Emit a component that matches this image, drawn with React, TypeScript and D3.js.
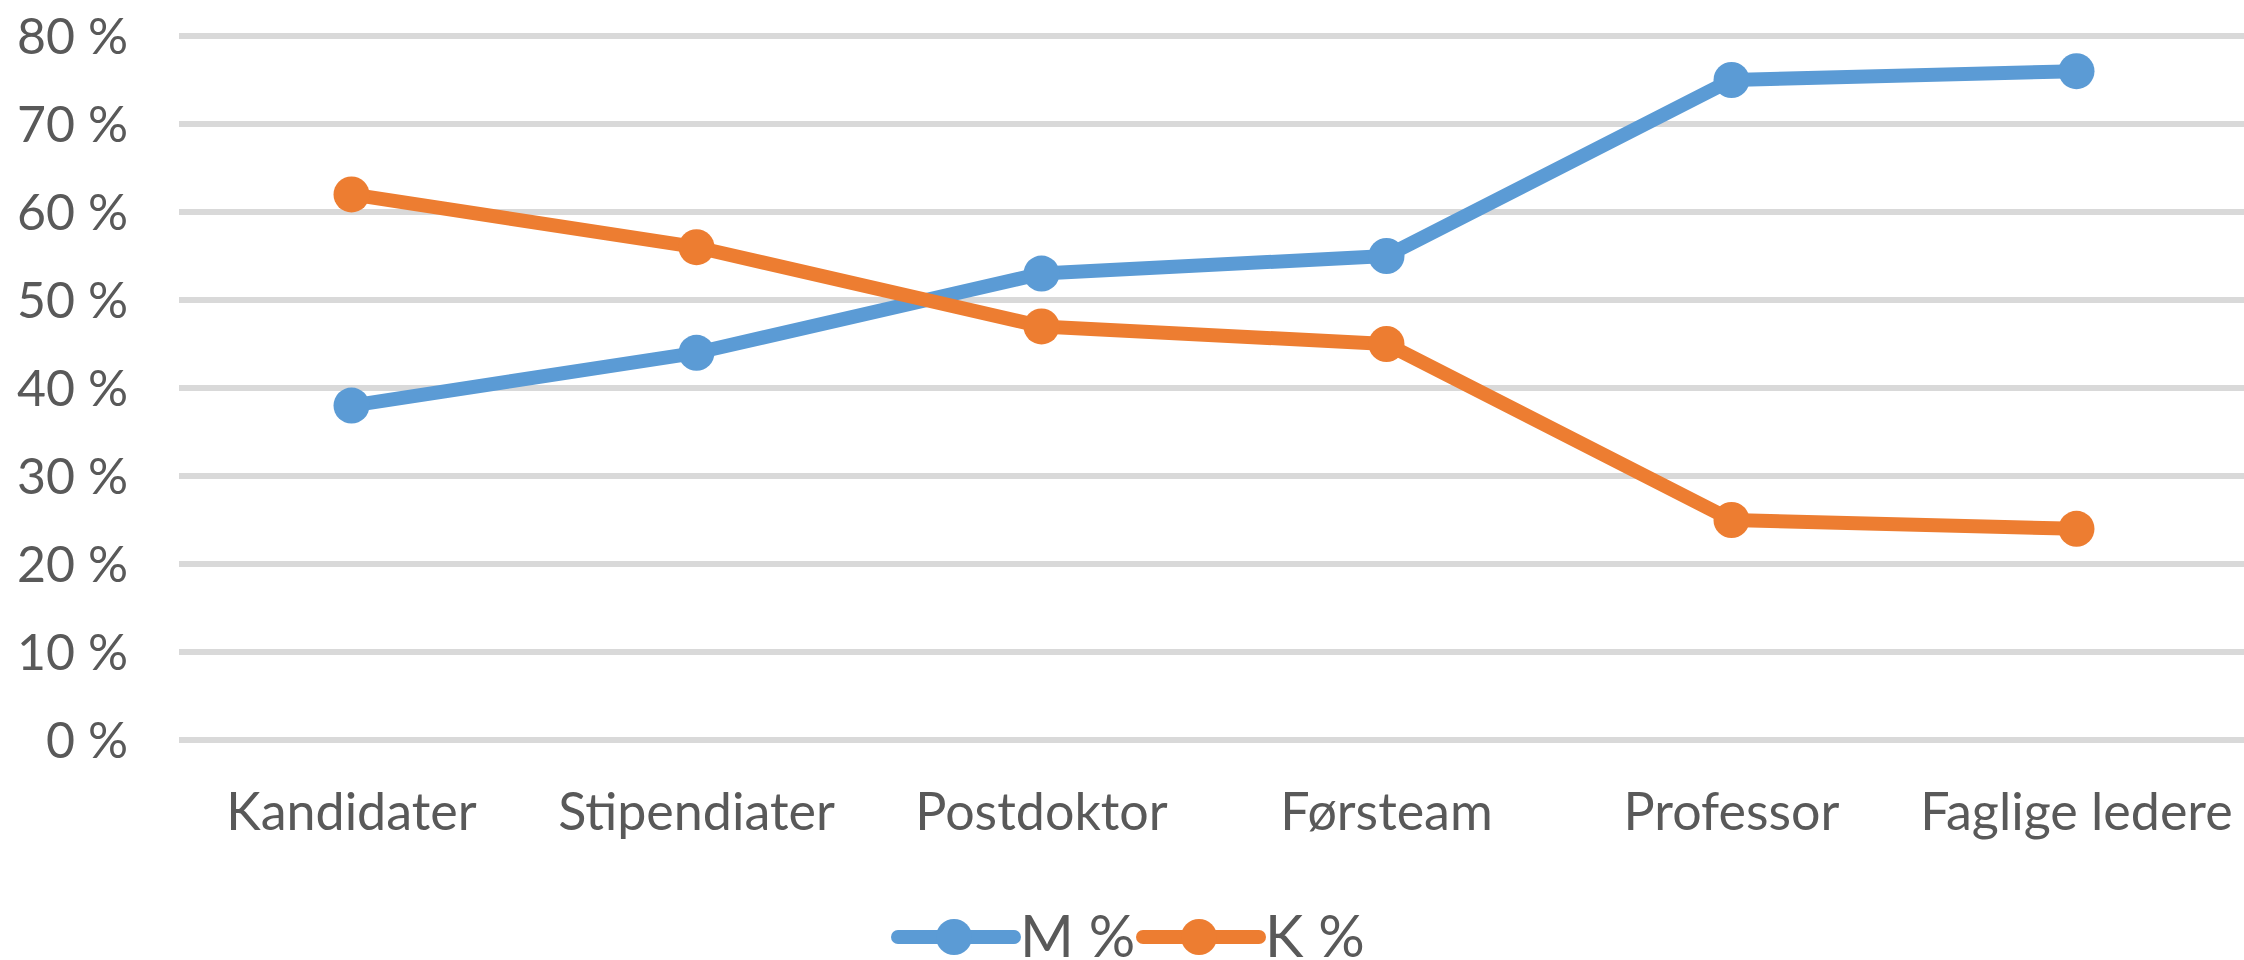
import React from "react";
import * as d3 from "d3";

const categories = ["Kandidater", "Stipendiater", "Postdoktor", "Førsteam", "Professor", "Faglige ledere"];
const menPct = [38, 44, 53, 55, 75, 76];
const womenPct = [62, 56, 47, 45, 25, 24];
const yTicks = [0, 10, 20, 30, 40, 50, 60, 70, 80];

const BLUE = "#5B9BD5";
const ORANGE = "#ED7D31";
const TEXT = "#595959";
const FONT = "Lato, 'Open Sans', sans-serif";

const App = () => {
  const width = 2244;
  const height = 960;
  const margin = { top: 36, left: 179, bottom: 740 };

  const x = d3.scalePoint<string>()
    .domain(categories)
    .range([margin.left, margin.left + 6 * 345])
    .padding(0.5);

  const y = d3.scaleLinear()
    .domain([0, 80])
    .range([margin.bottom, margin.top]);

  const line = d3.line<number>()
    .x((_, i) => x(categories[i]) as number)
    .y(d => y(d));

  const series = [
    { name: "M %", values: menPct, color: BLUE },
    { name: "K %", values: womenPct, color: ORANGE },
  ];

  const legend = [
    { name: "M %", color: BLUE, x0: 898 },
    { name: "K %", color: ORANGE, x0: 1143 },
  ];

  return (
    <svg width={width} height={height} style={{ position: "absolute", left: 0, top: 0, background: "#fff" }}>
      {/* gridlines */}
      {yTicks.map(t => (
        <line key={t} x1={margin.left} x2={width} y1={y(t)} y2={y(t)} stroke="#D9D9D9" strokeWidth={6} />
      ))}
      {/* y labels */}
      {yTicks.map(t => (
        <text key={"l" + t} x={128} y={y(t)} dy="0.35em" textAnchor="end" fontFamily={FONT} fontSize={50} fill={TEXT}>
          {t + " %"}
        </text>
      ))}
      {/* x labels */}
      {categories.map(c => (
        <text key={c} x={x(c)} y={830} textAnchor="middle" fontFamily={FONT} fontSize={52} fill={TEXT}>
          {c}
        </text>
      ))}
      {/* lines */}
      {series.map(s => (
        <g key={s.name}>
          <path d={line(s.values) as string} fill="none" stroke={s.color} strokeWidth={14} strokeLinejoin="round" />
          {s.values.map((v, i) => (
            <circle key={i} cx={x(categories[i])} cy={y(v)} r={18} fill={s.color} />
          ))}
        </g>
      ))}
      {/* legend */}
      {legend.map(l => (
        <g key={l.name}>
          <line x1={l.x0} x2={l.x0 + 116} y1={937} y2={937} stroke={l.color} strokeWidth={14} strokeLinecap="round" />
          <circle cx={l.x0 + 56} cy={937} r={18} fill={l.color} />
          <text x={l.x0 + 122} y={937} dy="0.35em" fontFamily={FONT} fontSize={58} fill={TEXT}>
            {l.name}
          </text>
        </g>
      ))}
    </svg>
  );
};

export default App;
